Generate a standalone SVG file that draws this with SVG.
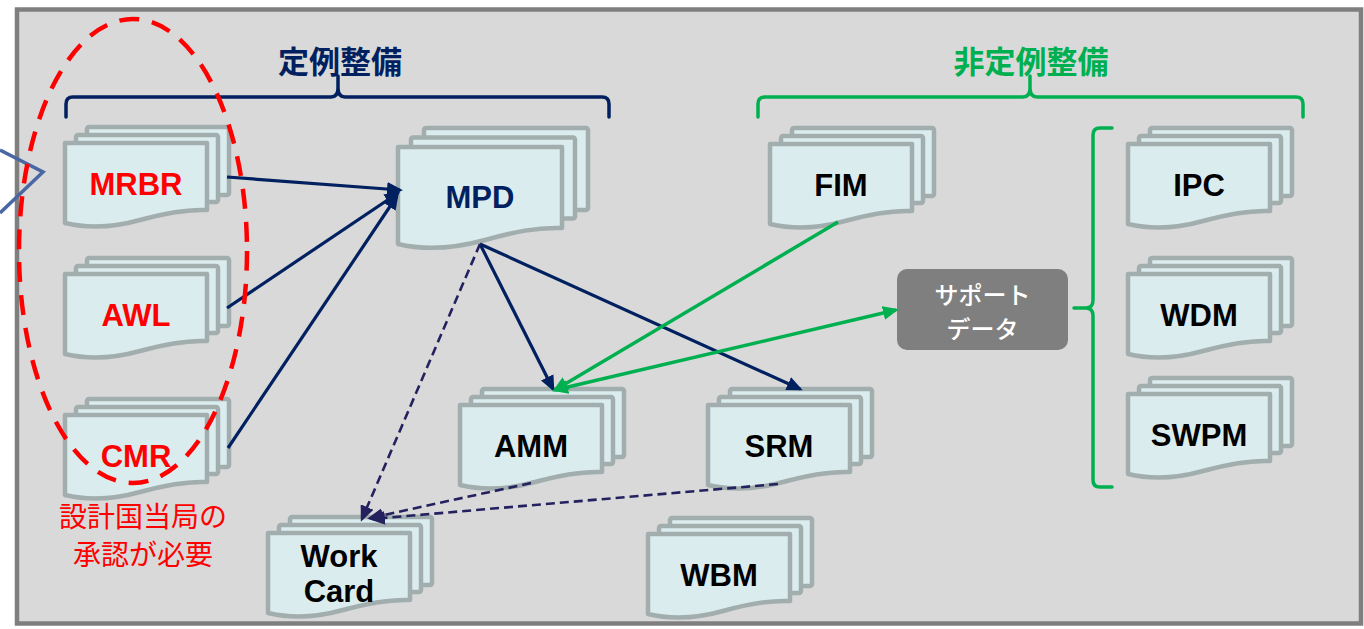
<svg xmlns="http://www.w3.org/2000/svg" xmlns:xlink="http://www.w3.org/1999/xlink" width="1364" height="629" viewBox="0 0 1364 629">
  <style>
    .page { fill: #dbecef; stroke: #a2aeae; stroke-width: 4.5; stroke-linejoin: round; }
    .lbl { font-family: "Liberation Sans", Arial, sans-serif; font-weight: bold; font-size: 31px; text-anchor: middle; fill: #000; }
    .red { fill: #ff0000; }
    .navy { fill: #002060; }
    .jp { font-family: "Noto Sans CJK JP", "Noto Sans CJK SC", sans-serif; text-anchor: middle; }
    .brace { fill: none; stroke-width: 3.5; stroke-linecap: round; stroke-linejoin: round; }
    .solid { fill: none; stroke: #002060; stroke-width: 3.2; }
    .green { fill: none; stroke: #00b050; stroke-width: 3.5; }
    .dash { fill: none; stroke: #24215f; stroke-width: 2.6; stroke-dasharray: 9 5; }
  </style>
  <defs>
    <!-- stacked document symbol: origin at top-left of the front sheet -->
    <g id="stack">
      <rect class="page" x="22" y="-16" width="142" height="68" rx="2"/>
      <rect class="page" x="11" y="-8" width="142" height="67" rx="2"/>
      <path class="page" d="M0,0 H142 V67 C120,66 100,70 75,77 C50,84 25,86 0,80 Z"/>
    </g>
    <marker id="headNavy" viewBox="0 0 16 14" refX="13" refY="7" markerWidth="16" markerHeight="14" markerUnits="userSpaceOnUse" orient="auto">
      <path d="M0,0 L16,7 L0,14 Z" fill="#002060"/>
    </marker>
    <marker id="headGreen" viewBox="0 0 16 14" refX="13" refY="7" markerWidth="16" markerHeight="14" markerUnits="userSpaceOnUse" orient="auto-start-reverse">
      <path d="M0,0 L16,7 L0,14 Z" fill="#00b050"/>
    </marker>
    <marker id="headDash" viewBox="0 0 16 14" refX="13" refY="7" markerWidth="16" markerHeight="14" markerUnits="userSpaceOnUse" orient="auto">
      <path d="M0,0 L16,7 L0,14 Z" fill="#24215f"/>
    </marker>
  </defs>

  <!-- panel -->
  <rect x="17" y="9.5" width="1344" height="614" fill="#d9d9d9" stroke="#7f7f7f" stroke-width="4.5"/>

  <!-- callout tip entering from the left -->
  <path d="M0,150 L43,172 L0,213" fill="none" stroke="#4a67a3" stroke-width="3.5"/>

  <!-- scheduled maintenance heading -->
  <g id="scheduled">
    <text class="jp navy" x="340" y="73" font-size="31" font-weight="bold">定例整備</text>
    <path class="brace" stroke="#002060" d="M66,117 V104 Q66,97 73,97 H331 Q338,97 338,88 V76 M338,88 Q338,97 345,97 H602 Q609,97 609,104 V117"/>
  </g>

  <!-- unscheduled maintenance heading -->
  <g id="unscheduled">
    <text class="jp" x="1031" y="73" font-size="31" font-weight="bold" fill="#00b050">非定例整備</text>
    <path class="brace" stroke="#00b050" d="M758,117 V104 Q758,97 765,97 H1023 Q1030,97 1030,88 V76 M1030,88 Q1030,97 1037,97 H1296 Q1303,97 1303,104 V117"/>
  </g>

  <!-- documents -->
  <g id="mrbr">
    <use xlink:href="#stack" transform="translate(65,143)"/>
    <text class="lbl red" x="136" y="195">MRBR</text>
  </g>
  <g id="awl">
    <use xlink:href="#stack" transform="translate(65,274)"/>
    <text class="lbl red" x="136" y="326">AWL</text>
  </g>
  <g id="cmr">
    <use xlink:href="#stack" transform="translate(65,415)"/>
    <text class="lbl red" x="136" y="467">CMR</text>
  </g>
  <g id="mpd">
    <rect class="page" x="424" y="128" width="164" height="82" rx="2"/>
    <rect class="page" x="411" y="137.5" width="164" height="81" rx="2"/>
    <path class="page" d="M398,147 H562 V228 C537,227 514,232 485,240 C456,248 427,251 398,244 Z"/>
    <text class="lbl navy" x="480" y="208" font-size="32">MPD</text>
  </g>
  <g id="amm">
    <use xlink:href="#stack" transform="translate(460,405)"/>
    <text class="lbl" x="531" y="457">AMM</text>
  </g>
  <g id="srm">
    <use xlink:href="#stack" transform="translate(708,405)"/>
    <text class="lbl" x="779" y="457">SRM</text>
  </g>
  <g id="wbm">
    <use xlink:href="#stack" transform="translate(648,534)"/>
    <text class="lbl" x="719" y="586">WBM</text>
  </g>
  <g id="workcard">
    <use xlink:href="#stack" transform="translate(268,533)"/>
    <text class="lbl" x="339" y="567" font-size="29">Work</text>
    <text class="lbl" x="339" y="602" font-size="29">Card</text>
  </g>
  <g id="fim">
    <use xlink:href="#stack" transform="translate(770,144)"/>
    <text class="lbl" x="841" y="196">FIM</text>
  </g>
  <g id="ipc">
    <use xlink:href="#stack" transform="translate(1128,144)"/>
    <text class="lbl" x="1199" y="196">IPC</text>
  </g>
  <g id="wdm">
    <use xlink:href="#stack" transform="translate(1128,274)"/>
    <text class="lbl" x="1199" y="326">WDM</text>
  </g>
  <g id="swpm">
    <use xlink:href="#stack" transform="translate(1128,394)"/>
    <text class="lbl" x="1199" y="446">SWPM</text>
  </g>

  <!-- support data box with its bracket -->
  <g id="support">
    <rect x="897" y="269" width="171" height="81" rx="10" fill="#7f7f7f"/>
    <text class="jp" x="982.5" y="304" font-size="24" font-weight="500" fill="#ffffff">サポート</text>
    <text class="jp" x="982.5" y="338" font-size="24" font-weight="500" fill="#ffffff">データ</text>
  </g>
  <g id="support-bracket">
    <path class="brace" stroke="#00b050" d="M1112,128 H1100 Q1093,128 1093,135 V300 Q1093,308 1086,308 H1074 M1086,308 Q1093,308 1093,316 V480 Q1093,487 1100,487 H1112"/>
  </g>

  <!-- approval note -->
  <g id="approval-note">
    <text class="jp red" x="143" y="527" font-size="28">設計国当局の</text>
    <text class="jp red" x="143" y="565" font-size="28">承認が必要</text>
  </g>

  <!-- connectors -->
  <g id="connectors">
    <line class="solid" x1="227" y1="177" x2="400" y2="190" marker-end="url(#headNavy)"/>
    <line class="solid" x1="227" y1="308" x2="398" y2="193" marker-end="url(#headNavy)"/>
    <line class="solid" x1="228" y1="448" x2="397" y2="196" marker-end="url(#headNavy)"/>
    <line class="solid" x1="480" y1="244" x2="553" y2="389" marker-end="url(#headNavy)"/>
    <line class="solid" x1="480" y1="244" x2="800" y2="389" marker-end="url(#headNavy)"/>
    <line class="dash" x1="480" y1="244" x2="362" y2="519" marker-end="url(#headDash)"/>
    <line class="dash" x1="531" y1="483" x2="370" y2="518" marker-end="url(#headDash)"/>
    <line class="dash" x1="778" y1="484" x2="372" y2="519" marker-end="url(#headDash)"/>
    <line class="green" x1="838" y1="222" x2="555" y2="390" marker-end="url(#headGreen)"/>
    <line class="green" x1="555" y1="390" x2="896" y2="310" marker-start="url(#headGreen)" marker-end="url(#headGreen)"/>
  </g>

  <!-- approval grouping outline -->
  <ellipse cx="133" cy="251" rx="114" ry="232" fill="none" stroke="#ff0000" stroke-width="4.5" stroke-dasharray="20 13"/>
</svg>
